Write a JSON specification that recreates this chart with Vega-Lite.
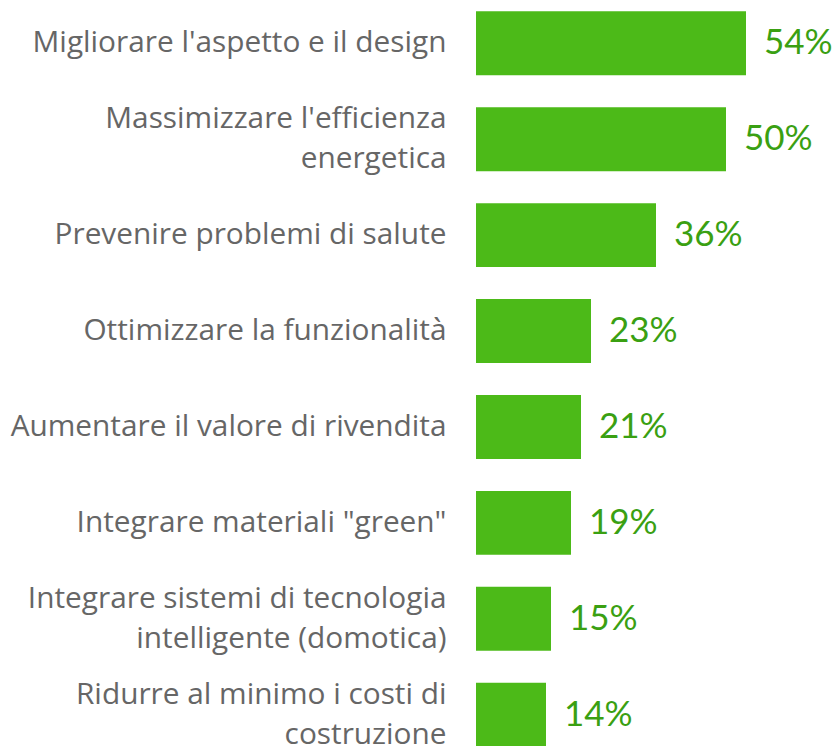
{
  "$schema": "https://vega.github.io/schema/vega-lite/v6.json",
  "width": 360,
  "height": 758,
  "autosize": "none",
  "padding": {"left": 476, "top": 0, "right": 0, "bottom": 0},
  "background": "white",
  "config": {"view": {"stroke": null}},
  "data": {"values": [
    {"label": "Migliorare l'aspetto e il design", "value": 54, "pct": "54%"},
    {"label": "Massimizzare l'efficienza|energetica", "value": 50, "pct": "50%"},
    {"label": "Prevenire problemi di salute", "value": 36, "pct": "36%"},
    {"label": "Ottimizzare la funzionalità", "value": 23, "pct": "23%"},
    {"label": "Aumentare il valore di rivendita", "value": 21, "pct": "21%"},
    {"label": "Integrare materiali \"green\"", "value": 19, "pct": "19%"},
    {"label": "Integrare sistemi di tecnologia|intelligente (domotica)", "value": 15, "pct": "15%"},
    {"label": "Ridurre al minimo i costi di|costruzione", "value": 14, "pct": "14%"}
  ]},
  "encoding": {
    "y": {
      "field": "label", "type": "nominal", "sort": null,
      "scale": {"paddingInner": 0.333, "paddingOuter": 0.118},
      "axis": {
        "title": null, "domain": false, "ticks": false, "labelPadding": 30,
        "labelFont": "Open Sans", "labelFontSize": 29.8, "labelColor": "#666666",
        "labelLimit": 0, "labelLineHeight": 40,
        "labelOffset": {"condition": {"test": "indexof(datum.value, '|') >= 0", "value": -20}, "value": 0},
        "labelExpr": "split(datum.label, '|')"
      }
    }
  },
  "layer": [
    {
      "mark": {"type": "bar", "color": "#4cba18"},
      "encoding": {
        "x": {"field": "value", "type": "quantitative", "scale": {"domain": [0, 72], "nice": false}, "axis": null}
      }
    },
    {
      "mark": {"type": "text", "align": "left", "baseline": "middle", "dx": 18, "font": "Lato", "fontSize": 35, "color": "#3aa012"},
      "encoding": {
        "x": {"field": "value", "type": "quantitative"},
        "text": {"field": "pct", "type": "nominal"}
      }
    }
  ]
}
